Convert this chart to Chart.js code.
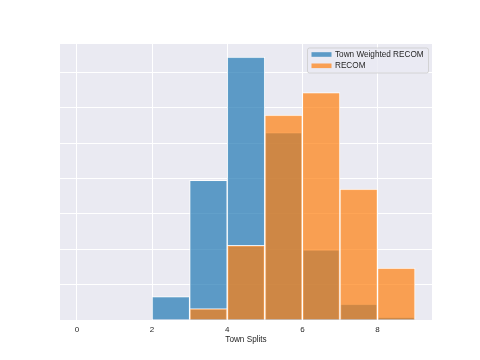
<!DOCTYPE html>
<html>
<head>
<meta charset="utf-8">
<script src="https://cdn.jsdelivr.net/npm/chart.js@4/dist/chart.umd.min.js"></script>
<style>
  html, body { margin: 0; padding: 0; background: #ffffff; }
  canvas { display: block; }
</style>
</head>
<body>
<canvas id="c" width="480" height="360"></canvas>
<script>
// Histogram bins (bin centres, width 1) and density values
const binCenters = [2.5, 3.5, 4.5, 5.5, 6.5, 7.5, 8.5];
const townWeighted = [0.033, 0.1975, 0.3715, 0.265, 0.099, 0.0225, 0.004];
const recom = [0, 0.016, 0.1055, 0.2895, 0.3215, 0.185, 0.0735];
const xTicks = [0, 2, 4, 6, 8];
const yTicks = [0, 0.05, 0.10, 0.15, 0.20, 0.25, 0.30, 0.35];
const seriesNames = ['Town Weighted RECOM', 'RECOM'];

const FONT = '"Liberation Sans", Arial, sans-serif';
const TEXT = '#262626';
const BLUE = 'rgba(31,119,180,0.7)';
const ORANGE = 'rgba(255,127,14,0.7)';

function toPoints(vals) {
  const out = [];
  vals.forEach((v, i) => { if (v > 0) out.push({ x: binCenters[i], y: v }); });
  return out;
}

const bgPlugin = {
  id: 'axesBg',
  beforeDraw(chart) {
    const { ctx, chartArea: a } = chart;
    ctx.save();
    ctx.fillStyle = '#eaeaf2';
    ctx.fillRect(a.left, a.top, a.right - a.left, a.bottom - a.top);
    ctx.restore();
  }
};

const legendPlugin = {
  id: 'innerLegend',
  afterDatasetsDraw(chart) {
    const { ctx, chartArea: a } = chart;
    const x0 = a.right - 125, y0 = a.top + 3.5, w = 121, h = 25;
    ctx.save();
    ctx.fillStyle = 'rgba(234,234,242,0.8)';
    ctx.strokeStyle = 'rgba(204,204,204,0.8)';
    ctx.lineWidth = 1;
    ctx.beginPath();
    ctx.roundRect(x0 + 0.5, y0 + 0.5, w, h, 2);
    ctx.fill();
    ctx.stroke();
    ctx.font = '8.2px ' + FONT;
    ctx.textBaseline = 'middle';
    const colors = [BLUE, ORANGE];
    seriesNames.forEach((name, i) => {
      const cy = y0 + 7 + i * 11.3;
      ctx.fillStyle = colors[i];
      ctx.fillRect(x0 + 4.5, cy - 2.3, 20, 4.6);
      ctx.fillStyle = TEXT;
      ctx.fillText(name, x0 + 28, cy);
    });
    ctx.restore();
  }
};

new Chart(document.getElementById('c'), {
  type: 'bar',
  data: {
    datasets: [
      {
        label: seriesNames[0],
        data: toPoints(townWeighted),
        backgroundColor: BLUE,
        borderColor: 'rgba(255,255,255,0.85)',
        borderWidth: 1,
        order: 1
      },
      {
        label: seriesNames[1],
        data: toPoints(recom),
        backgroundColor: ORANGE,
        borderColor: 'rgba(255,255,255,0.85)',
        borderWidth: 1,
        order: 0
      }
    ]
  },
  options: {
    responsive: false,
    animation: false,
    devicePixelRatio: 1,
    grouped: false,
    barPercentage: 1,
    categoryPercentage: 1,
    layout: { padding: { left: 60, right: 48, top: 44, bottom: 0 } },
    plugins: {
      legend: { display: false },
      tooltip: { enabled: false }
    },
    scales: {
      x: {
        type: 'linear',
        offset: false,
        min: -0.45,
        max: 9.45,
        afterBuildTicks: (s) => { s.ticks = xTicks.map(v => ({ value: v })); },
        afterFit: (s) => { s.height = 40; },
        grid: { color: '#ffffff', lineWidth: 1, drawTicks: false, offset: false },
        border: { display: false },
        ticks: { color: TEXT, font: { family: FONT, size: 8 }, padding: 4.5, maxRotation: 0,
                 callback: (v) => String(v) },
        title: { display: true, text: 'Town Splits', color: TEXT,
                 font: { family: FONT, size: 8.2 }, padding: { top: 0, bottom: 15 } }
      },
      y: {
        type: 'linear',
        min: 0,
        max: 0.39,
        afterBuildTicks: (s) => { s.ticks = yTicks.map(v => ({ value: v })); },
        afterFit: (s) => { s.width = 0; },
        grid: { color: '#ffffff', lineWidth: 1, drawTicks: false },
        border: { display: false },
        ticks: { display: false }
      }
    }
  },
  plugins: [bgPlugin, legendPlugin]
});
</script>
</body>
</html>
